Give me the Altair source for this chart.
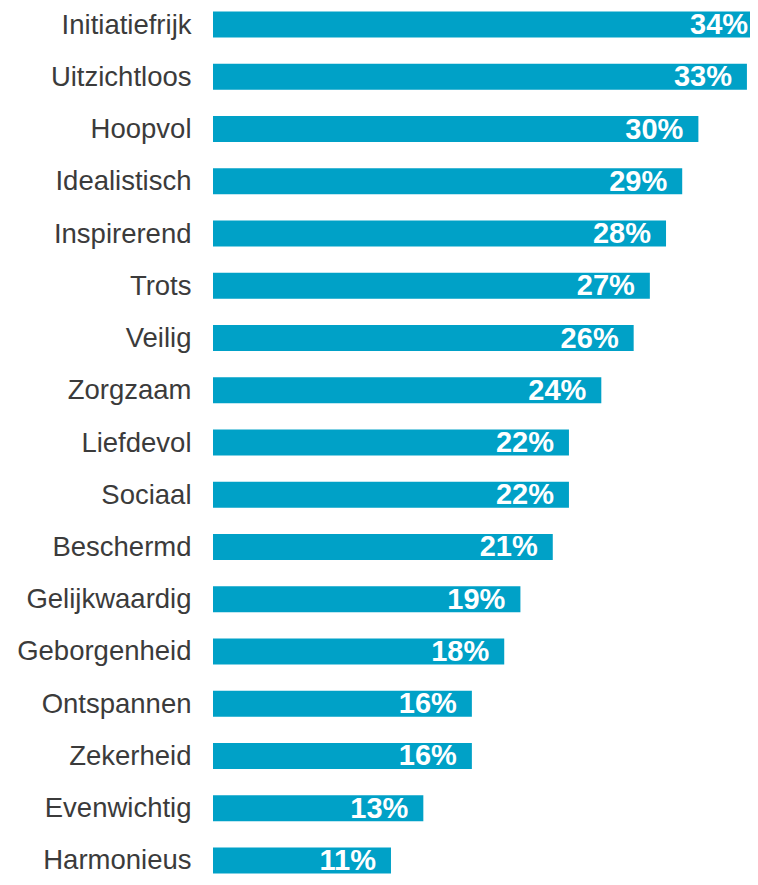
import altair as alt
import pandas as pd

categories = ["Initiatiefrijk", "Uitzichtloos", "Hoopvol", "Idealistisch", "Inspirerend",
              "Trots", "Veilig", "Zorgzaam", "Liefdevol", "Sociaal", "Beschermd",
              "Gelijkwaardig", "Geborgenheid", "Ontspannen", "Zekerheid", "Evenwichtig",
              "Harmonieus"]
values = [34, 33, 30, 29, 28, 27, 26, 24, 22, 22, 21, 19, 18, 16, 16, 13, 11]
labels = [f"{v}%" for v in values]

df = pd.DataFrame({"cat": categories, "val": values, "lab": labels})

y = alt.Y("cat:N", sort=categories, title=None,
          scale=alt.Scale(paddingInner=0.5, paddingOuter=0.066),
          axis=alt.Axis(ticks=False, tickSize=0, domain=False, labelPadding=22,
                        labelOffset=1,
                        labelFont="Liberation Sans", labelFontSize=27.5,
                        labelColor="#3b3b3b", labelLimit=300))
x = alt.X("val:Q", scale=alt.Scale(domain=[0, 33.19], nice=False, zero=True), axis=None)

bars = alt.Chart(df).mark_bar(color="#00A1C7", clip=True).encode(x=x, y=y)
text = alt.Chart(df).mark_text(align="right", baseline="middle", dx=-15, dy=0.5,
                               font="Liberation Sans", fontWeight="bold", fontSize=29,
                               color="white").encode(x=x, y=y, text="lab:N")

chart = (bars + text).properties(
    width=537, height=869,
    padding={"left": 205, "top": 0, "right": 0, "bottom": 0},
    autosize=alt.AutoSizeParams(type="none"),
    background="white",
).configure_view(strokeWidth=0)

chart.save("out.html", embed_options={"renderer": "svg", "actions": False})
